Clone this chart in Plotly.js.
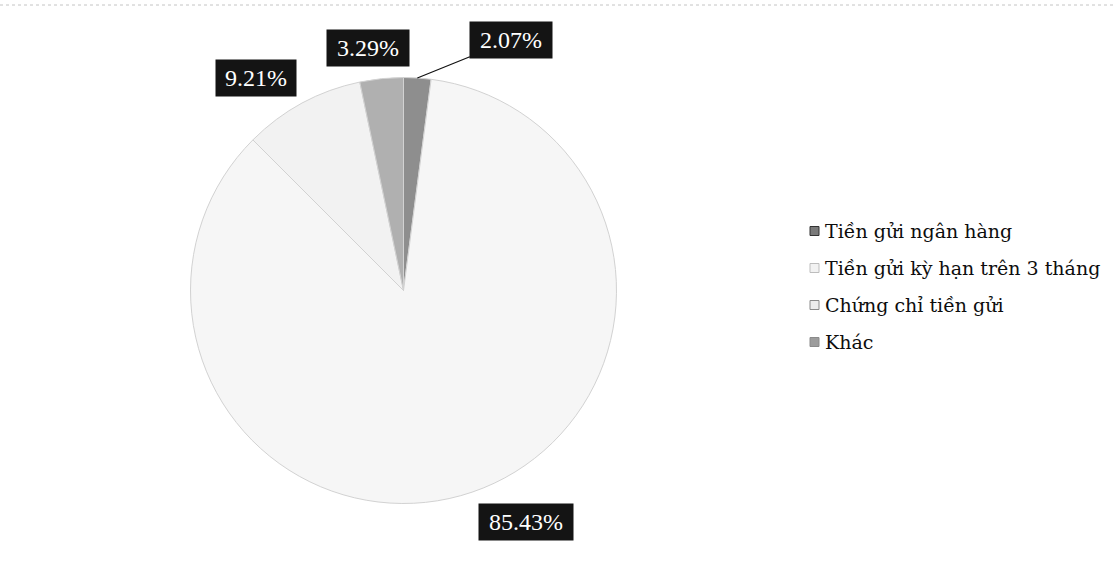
<!DOCTYPE html>
<html>
<head>
<meta charset="utf-8">
<script src="https://cdn.plot.ly/plotly-3.0.1.min.js"></script>
<style>html,body{margin:0;padding:0;background:#fff;}#chart{width:1113px;height:565px;}</style>
</head>
<body>
<div id="chart"></div>
<script>
// ---- data ----
const categories = ["Tiền gửi ngân hàng", "Tiền gửi kỳ hạn trên 3 tháng", "Chứng chỉ tiền gửi", "Khác"];
const values = [2.07, 85.43, 9.21, 3.29];
const valueLabels = ["2.07%", "85.43%", "9.21%", "3.29%"];

// ---- styles ----
const sliceColors = ["#8e8e8e", "#f6f6f6", "#f2f2f2", "#b0b0b0"];
const legendMarkerColors = ["#7a7a7a", "#f2f2f2", "#ececec", "#9c9c9c"];
const legendMarkerBorders = ["#333333", "#bdbdbd", "#8a8a8a", "#8a8a8a"];
const labelOffsets = [[94, -38], [54, 30], [-46, -25], [-14, -31]];
const labelShowLine = [true, false, false, false];
const labelWidths = [74, 86, 72, 74];

const W = 1113, H = 565;
const cx = 403.5, cy = 290.5, R = 213;

const total = values.reduce((a, b) => a + b, 0);
let cum = 0;
const annotations = [];
values.forEach((v, i) => {
  const mid = (cum + v / 2) / total * 2 * Math.PI;
  cum += v;
  const px = cx + R * Math.sin(mid);
  const py = cy - R * Math.cos(mid);
  annotations.push({
    xref: 'paper', yref: 'paper',
    x: px / W, y: 1 - py / H,
    text: valueLabels[i],
    showarrow: true,
    arrowhead: 0, arrowwidth: 1.2, standoff: 0,
    arrowcolor: labelShowLine[i] ? '#111' : 'rgba(0,0,0,0)',
    ax: labelOffsets[i][0], ay: labelOffsets[i][1],
    bgcolor: '#141414', borderpad: 4,
    width: labelWidths[i], height: 28,
    font: {family: 'Liberation Serif', size: 24, color: '#ffffff'}
  });
});

// manual legend
const legX = 810, legY0 = 231, legStep = 37, mk = 9;
const shapes = [];
categories.forEach((c, i) => {
  const y = legY0 + i * legStep;
  shapes.push({
    type: 'rect', xref: 'paper', yref: 'paper',
    x0: legX / W, x1: (legX + mk) / W,
    y0: 1 - (y + mk / 2) / H, y1: 1 - (y - mk / 2) / H,
    fillcolor: legendMarkerColors[i],
    line: {color: legendMarkerBorders[i], width: 1}
  });
  annotations.push({
    xref: 'paper', yref: 'paper',
    x: (legX + mk + 4) / W, y: 1 - y / H,
    xanchor: 'left', yanchor: 'middle',
    text: c, showarrow: false,
    font: {family: 'DejaVu Serif, serif', size: 19, color: '#0d0d0d'}
  });
});
// faint scan line at top
shapes.push({
  type: 'line', xref: 'paper', yref: 'paper',
  x0: 0, x1: 1, y0: 1 - 5 / H, y1: 1 - 5 / H,
  line: {color: '#c4c4c4', width: 1, dash: 'dot'}
});

const trace = {
  type: 'pie',
  labels: categories,
  values: values,
  sort: false,
  direction: 'clockwise',
  rotation: 0,
  textinfo: 'none',
  hoverinfo: 'label+percent',
  marker: {colors: sliceColors, line: {color: '#d2d2d2', width: 1}},
  domain: {x: [(cx - R) / W, (cx + R) / W], y: [1 - (cy + R) / H, 1 - (cy - R) / H]},
  showlegend: false
};

Plotly.newPlot('chart', [trace], {
  width: W, height: H,
  margin: {l: 0, r: 0, t: 0, b: 0},
  paper_bgcolor: '#ffffff',
  showlegend: false,
  annotations: annotations,
  shapes: shapes
}, {displayModeBar: false, staticPlot: true});
</script>
</body>
</html>
